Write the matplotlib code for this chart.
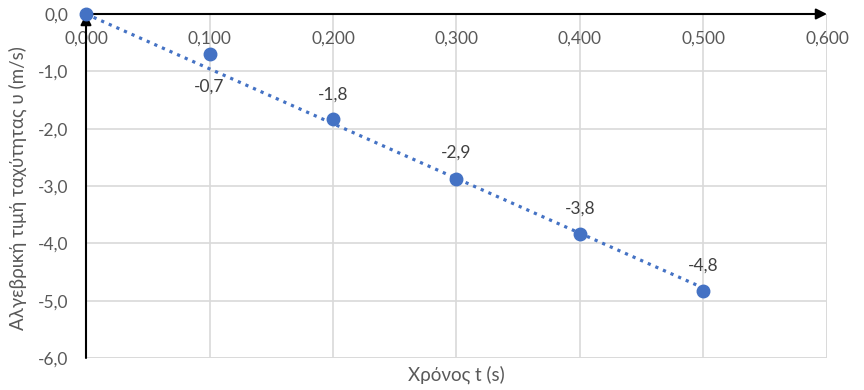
import numpy as np
import matplotlib
matplotlib.use("Agg")
import matplotlib.pyplot as plt
from matplotlib.ticker import FuncFormatter

t_values = [0.0, 0.1, 0.2, 0.3, 0.4, 0.5]
v_values = [0.0, -0.70, -1.84, -2.88, -3.84, -4.84]
label_offsets = [None, -32, 25, 26, 26, 26]  # pixels (neg = below)
x_ticks = [0.0, 0.1, 0.2, 0.3, 0.4, 0.5, 0.6]
y_ticks = [0, -1, -2, -3, -4, -5, -6]
xlabel = "Χρόνος t (s)"
ylabel = "Αλγεβρική τιμή ταχύτητας υ (m/s)"

plt.rcParams['font.family'] = ['Lato', 'DejaVu Sans']
blue = '#4472C4'
gray = '#595959'

fig = plt.figure(figsize=(8.64, 3.9), dpi=100)
ax = fig.add_axes([86/864, 1-358/390, (827-86)/864, (358-14)/390])
ax.set_xlim(0, 0.6)
ax.set_ylim(-6, 0)
ax.set_xticks(x_ticks)
ax.set_yticks(y_ticks)
ax.xaxis.set_major_formatter(FuncFormatter(lambda v, p: f"{v:.3f}".replace('.', ',')))
ax.yaxis.set_major_formatter(FuncFormatter(lambda v, p: f"{v:.1f}".replace('.', ',').replace('-0,0', '0,0')))
ax.grid(True, color='#d9d9d9', lw=1.2, zorder=0)
ax.spines['bottom'].set_position(('data', 0))
for s in ax.spines.values():
    s.set_visible(False)
ax.tick_params(axis='both', length=0, labelcolor=gray, labelsize=12.5)
ax.tick_params(axis='x', pad=12)
ax.tick_params(axis='y', pad=13)

# borders at right/bottom (gridline colour)
ax.axvline(0.6, color='#d9d9d9', lw=1.2, zorder=0)
ax.axhline(-6, color='#d9d9d9', lw=1.2, zorder=0)

# axes with arrows
ax.annotate('', xy=(0.6, 0), xytext=(0, 0),
            arrowprops=dict(arrowstyle='-|>', color='black', lw=1.5, mutation_scale=16, shrinkA=0, shrinkB=0),
            annotation_clip=False, zorder=3)
ax.annotate('', xy=(0, 0), xytext=(0, -6),
            arrowprops=dict(arrowstyle='-|>', color='black', lw=1.5, mutation_scale=16, shrinkA=0, shrinkB=0),
            annotation_clip=False, zorder=3)

# trendline (linear, intercept fixed at 0)
tx = np.array(t_values)
vy = np.array(v_values)
slope = np.sum(tx * vy) / np.sum(tx * tx)
xs = np.array([tx.min(), tx.max()])
ax.plot(xs, slope * xs, ls=(0, (1, 1.6)), color=blue, lw=2.3, zorder=4)

ax.plot(t_values, v_values, 'o', color=blue, ms=9, zorder=5, clip_on=False)

for t, v, off in zip(t_values, v_values, label_offsets):
    if off is None:
        continue
    ax.annotate(f"{v:.1f}".replace('.', ','), (t, v), xytext=(0, off), textcoords='offset pixels',
                ha='center', va='center', color='#404040', fontsize=12.5, zorder=6)

fig.text(456/864, 1-375/390, xlabel, color=gray, fontsize=13.5, ha='center', va='center')
fig.text(18/864, 1-188/390, ylabel, color=gray, fontsize=13.5, ha='center', va='center', rotation=90)

fig.savefig('out.png', dpi=100)
